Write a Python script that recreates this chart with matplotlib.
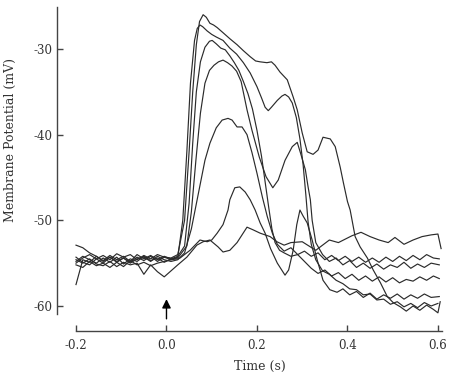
import matplotlib
matplotlib.use("Agg")
import matplotlib.pyplot as plt

# valores: tiempo (s) y potencial de membrana (mV)
base_t = [-0.2, -0.185, -0.17, -0.155, -0.14, -0.125, -0.11, -0.095,
          -0.08, -0.065, -0.05, -0.035, -0.02, -0.005, 0.01, 0.025]

t1 = base_t + [0.04, 0.05, 0.058, 0.066, 0.073, 0.081, 0.088, 0.096, 0.104, 0.112,
               0.125, 0.14, 0.156, 0.17, 0.185, 0.197, 0.207, 0.222, 0.232, 0.24,
               0.251, 0.267, 0.28, 0.289, 0.3, 0.311, 0.324, 0.335, 0.346, 0.362,
               0.373, 0.384, 0.391, 0.4, 0.406, 0.417, 0.428, 0.444, 0.457, 0.473,
               0.488, 0.501, 0.517, 0.53, 0.545, 0.56, 0.575, 0.59, 0.6, 0.605]
v1 = [-55.0, -54.4, -54.0, -54.5, -54.1, -54.6, -53.9, -54.3,
      -54.0, -54.6, -54.1, -54.5, -54.0, -54.3, -54.4, -54.0] + \
     [-50.0, -42.0, -35.0, -29.5, -26.8, -26.0, -26.3, -27.0, -27.2, -27.5,
      -28.1, -28.8, -29.5, -30.2, -30.9, -31.4, -31.5, -31.6, -31.5, -31.9,
      -32.7, -33.6, -35.6, -37.1, -39.8, -42.0, -42.3, -41.8, -40.3, -40.5,
      -41.4, -43.8, -45.6, -47.8, -48.8, -51.9, -53.1, -54.4, -55.8, -57.3,
      -58.9, -59.6, -60.1, -60.6, -60.0, -60.5, -59.9, -60.4, -60.8, -59.5]

t2 = base_t + [0.036, 0.045, 0.053, 0.062, 0.068, 0.074, 0.08, 0.09, 0.1, 0.11,
               0.125, 0.14, 0.155, 0.17, 0.185, 0.2, 0.21, 0.218, 0.225, 0.232,
               0.245, 0.255, 0.262, 0.27, 0.278, 0.287, 0.295, 0.302, 0.308, 0.313,
               0.32, 0.33, 0.345, 0.36, 0.375, 0.39, 0.405, 0.42, 0.435, 0.45,
               0.465, 0.48, 0.495, 0.51, 0.525, 0.54, 0.555, 0.57, 0.585, 0.6]
v2 = [-54.3, -54.9, -55.2, -54.5, -55.0, -54.3, -54.8, -54.4,
      -54.9, -54.3, -54.7, -54.2, -54.8, -54.3, -54.6, -54.3] + \
     [-50.0, -42.0, -34.0, -29.0, -27.6, -27.2, -27.4, -27.9, -28.3, -28.6,
      -29.0, -29.9, -30.6, -31.6, -32.8, -34.4, -35.7, -36.8, -37.2, -36.8,
      -36.0, -35.5, -35.3, -35.6, -36.3, -38.0, -40.5, -43.5, -47.0, -50.2,
      -52.8, -54.6, -55.9, -56.3, -57.0, -57.4, -58.0, -58.1, -58.7, -58.6,
      -59.3, -59.2, -59.8, -59.5, -60.1, -59.7, -60.2, -59.6, -60.0, -59.7]

t3 = base_t + [0.04, 0.05, 0.058, 0.066, 0.075, 0.085, 0.095, 0.101, 0.11, 0.12,
               0.13, 0.14, 0.15, 0.16, 0.17, 0.18, 0.19, 0.2, 0.21, 0.218,
               0.226, 0.233, 0.24, 0.25, 0.26, 0.275, 0.29, 0.305, 0.32, 0.335,
               0.35, 0.365, 0.38, 0.395, 0.41, 0.425, 0.44, 0.455, 0.47, 0.485,
               0.5, 0.515, 0.53, 0.545, 0.56, 0.575, 0.59, 0.603]
v3 = [-57.5, -54.6, -54.9, -54.2, -54.7, -54.1, -54.6, -54.2,
      -54.8, -54.0, -54.5, -54.1, -54.6, -54.2, -54.5, -54.2] + \
     [-53.0, -48.0, -41.0, -35.0, -31.5, -29.8, -29.1, -29.0, -29.4, -29.9,
      -30.1, -30.8, -31.6, -32.5, -33.8, -35.2, -37.0, -39.5, -42.5, -45.5,
      -48.5, -51.0, -52.6, -53.5, -53.8, -54.2, -54.0, -54.8, -55.6, -56.2,
      -55.8, -56.5, -56.1, -56.8, -56.3, -57.0, -56.5, -57.1, -56.6, -57.2,
      -56.7, -57.3, -56.9, -57.1, -56.6, -57.0, -56.5, -56.8]

t4 = base_t + [0.045, 0.055, 0.065, 0.075, 0.085, 0.095, 0.105, 0.115, 0.125, 0.135,
               0.145, 0.155, 0.165, 0.178, 0.189, 0.205, 0.22, 0.235, 0.247, 0.262,
               0.278, 0.289, 0.296, 0.307, 0.313, 0.318, 0.322, 0.33, 0.345, 0.36,
               0.375, 0.39, 0.405, 0.42, 0.435, 0.45, 0.465, 0.48, 0.495, 0.51,
               0.525, 0.54, 0.555, 0.57, 0.585, 0.603]
v4 = [-54.8, -54.2, -54.6, -55.0, -54.4, -54.9, -54.3, -55.1,
      -54.5, -54.8, -54.2, -54.7, -54.4, -54.9, -54.5, -54.4] + \
     [-53.0, -49.0, -43.0, -37.5, -34.0, -32.5, -31.9, -31.5, -31.3, -31.6,
      -32.0, -32.6, -33.8, -37.1, -39.5, -42.6, -44.9, -46.2, -45.3, -43.0,
      -41.4, -40.9, -42.1, -44.1, -46.1, -47.6, -50.0, -52.6, -54.0, -54.8,
      -54.4, -55.2, -54.7, -55.5, -55.0, -55.6, -55.1, -55.7, -55.2, -55.5,
      -54.9, -55.6, -55.1, -55.5, -55.0, -55.2]

t5 = base_t + [0.04, 0.055, 0.07, 0.085, 0.096, 0.11, 0.123, 0.136, 0.145, 0.156,
               0.167, 0.178, 0.189, 0.2, 0.212, 0.223, 0.234, 0.245, 0.26, 0.275,
               0.29, 0.305, 0.32, 0.335, 0.35, 0.365, 0.38, 0.395, 0.41, 0.425,
               0.44, 0.455, 0.47, 0.485, 0.5, 0.515, 0.53, 0.545, 0.56, 0.575,
               0.59, 0.603]
v5 = [-52.9, -53.2, -53.8, -54.2, -54.8, -54.3, -54.9, -54.4,
      -55.0, -54.5, -54.3, -54.8, -54.2, -54.6, -54.8, -54.6] + \
     [-53.8, -51.0, -47.0, -43.0, -41.0, -39.2, -38.3, -38.1, -38.3, -39.1,
      -39.1, -40.0, -42.1, -44.5, -47.3, -49.6, -51.5, -52.8, -53.6, -53.2,
      -54.0, -53.6, -54.2, -53.8, -54.6, -54.1, -54.7, -54.2, -54.8, -54.3,
      -54.9, -54.4, -54.9, -54.3, -54.8, -54.2, -54.7, -54.1, -54.6, -54.0,
      -54.4, -54.5]

t6 = base_t + [0.03, 0.052, 0.074, 0.09, 0.1, 0.112, 0.125, 0.136, 0.14, 0.151,
               0.162, 0.174, 0.185, 0.196, 0.207, 0.218, 0.23, 0.245, 0.262, 0.27,
               0.28, 0.288, 0.295, 0.302, 0.311, 0.322, 0.333, 0.346, 0.361, 0.377,
               0.39, 0.405, 0.42, 0.435, 0.45, 0.465, 0.48, 0.495, 0.51, 0.525,
               0.54, 0.555, 0.57, 0.585, 0.603]
v6 = [-55.2, -55.5, -54.8, -55.3, -55.0, -55.5, -54.9, -55.4,
      -54.7, -55.2, -54.9, -55.3, -55.0, -54.8, -54.6, -54.5] + \
     [-54.4, -53.5, -52.3, -52.5, -52.3, -51.5, -50.5, -48.8, -47.6, -46.2,
      -46.1, -46.7, -47.6, -48.8, -50.3, -51.5, -53.3, -55.0, -56.4, -55.8,
      -53.5, -50.5, -48.8, -49.5, -50.3, -52.3, -54.6, -57.0, -58.1, -58.4,
      -58.0, -58.7, -58.3, -59.0, -58.5, -59.2, -58.7, -59.1, -58.6, -59.2,
      -58.7, -59.1, -58.6, -59.0, -58.9]

t7 = base_t + [0.045, 0.067, 0.081, 0.096, 0.114, 0.125, 0.14, 0.156, 0.178, 0.191,
               0.207, 0.229, 0.244, 0.26, 0.275, 0.3, 0.315, 0.33, 0.345, 0.36,
               0.38, 0.41, 0.43, 0.45, 0.47, 0.49, 0.505, 0.525, 0.545, 0.565,
               0.585, 0.6, 0.607]
v7 = [-54.6, -55.0, -54.5, -55.1, -55.3, -54.8, -55.4, -54.9,
      -55.2, -55.0, -56.3, -55.2, -56.0, -56.6, -55.9, -55.2] + \
     [-54.3, -52.9, -52.5, -52.3, -53.1, -53.7, -53.5, -52.6, -50.8, -51.1,
      -51.5, -51.9, -52.5, -52.9, -52.6, -52.5, -53.0, -53.5, -52.9, -52.3,
      -52.6, -51.8, -51.4, -51.9, -52.3, -52.6, -52.0, -52.8, -52.3, -51.9,
      -51.7, -51.6, -53.3]

trazos = [(t1, v1), (t2, v2), (t3, v3), (t4, v4), (t5, v5), (t6, v6), (t7, v7)]

yticks = [-60, -50, -40, -30]
xticks = [-0.2, 0.0, 0.2, 0.4, 0.6]

plt.rcParams['font.family'] = ['DejaVu Serif']
plt.rcParams['axes.unicode_minus'] = False

fig = plt.figure(figsize=(4.5, 3.74), dpi=100)
ax = fig.add_axes([57 / 450, 1 - 331 / 374, 385 / 450, 324 / 374])

for t, v in trazos:
    ax.plot(t, v, color='#2b2b2b', lw=0.85)

ax.set_xlim(-0.242, 0.609)
ax.set_ylim(-62.92, -25.1)

for lado in ['top', 'right']:
    ax.spines[lado].set_visible(False)
ax.spines['left'].set_bounds(-60.93, -25.1)
ax.spines['bottom'].set_bounds(-0.2, 0.609)
for lado in ['left', 'bottom']:
    ax.spines[lado].set_color('#444444')
    ax.spines[lado].set_linewidth(1.0)

ax.set_xticks(xticks)
ax.set_xticklabels(['%.1f' % x for x in xticks])
ax.set_yticks(yticks)
ax.set_yticklabels([str(y) for y in yticks])
ax.tick_params(direction='in', length=4.3, width=1.0, color='#444444',
               labelsize=8.5, labelcolor='#333333')
ax.tick_params(axis='x', pad=6)
ax.tick_params(axis='y', pad=3)

ax.set_xlabel('Time (s)', fontsize=9, color='#333333')
ax.set_ylabel('Membrane Potential (mV)', fontsize=9, color='#333333')
ax.xaxis.set_label_coords(0.527, -0.088)
ax.yaxis.set_label_coords(-0.103, 0.589)

# flecha del estimulo
ax.annotate('', xy=(0.0, -59.2), xytext=(0.0, -61.5),
            arrowprops=dict(arrowstyle='-|>', color='black', lw=1.0,
                            mutation_scale=13, shrinkA=0, shrinkB=0))

fig.savefig('out.png', dpi=100)
